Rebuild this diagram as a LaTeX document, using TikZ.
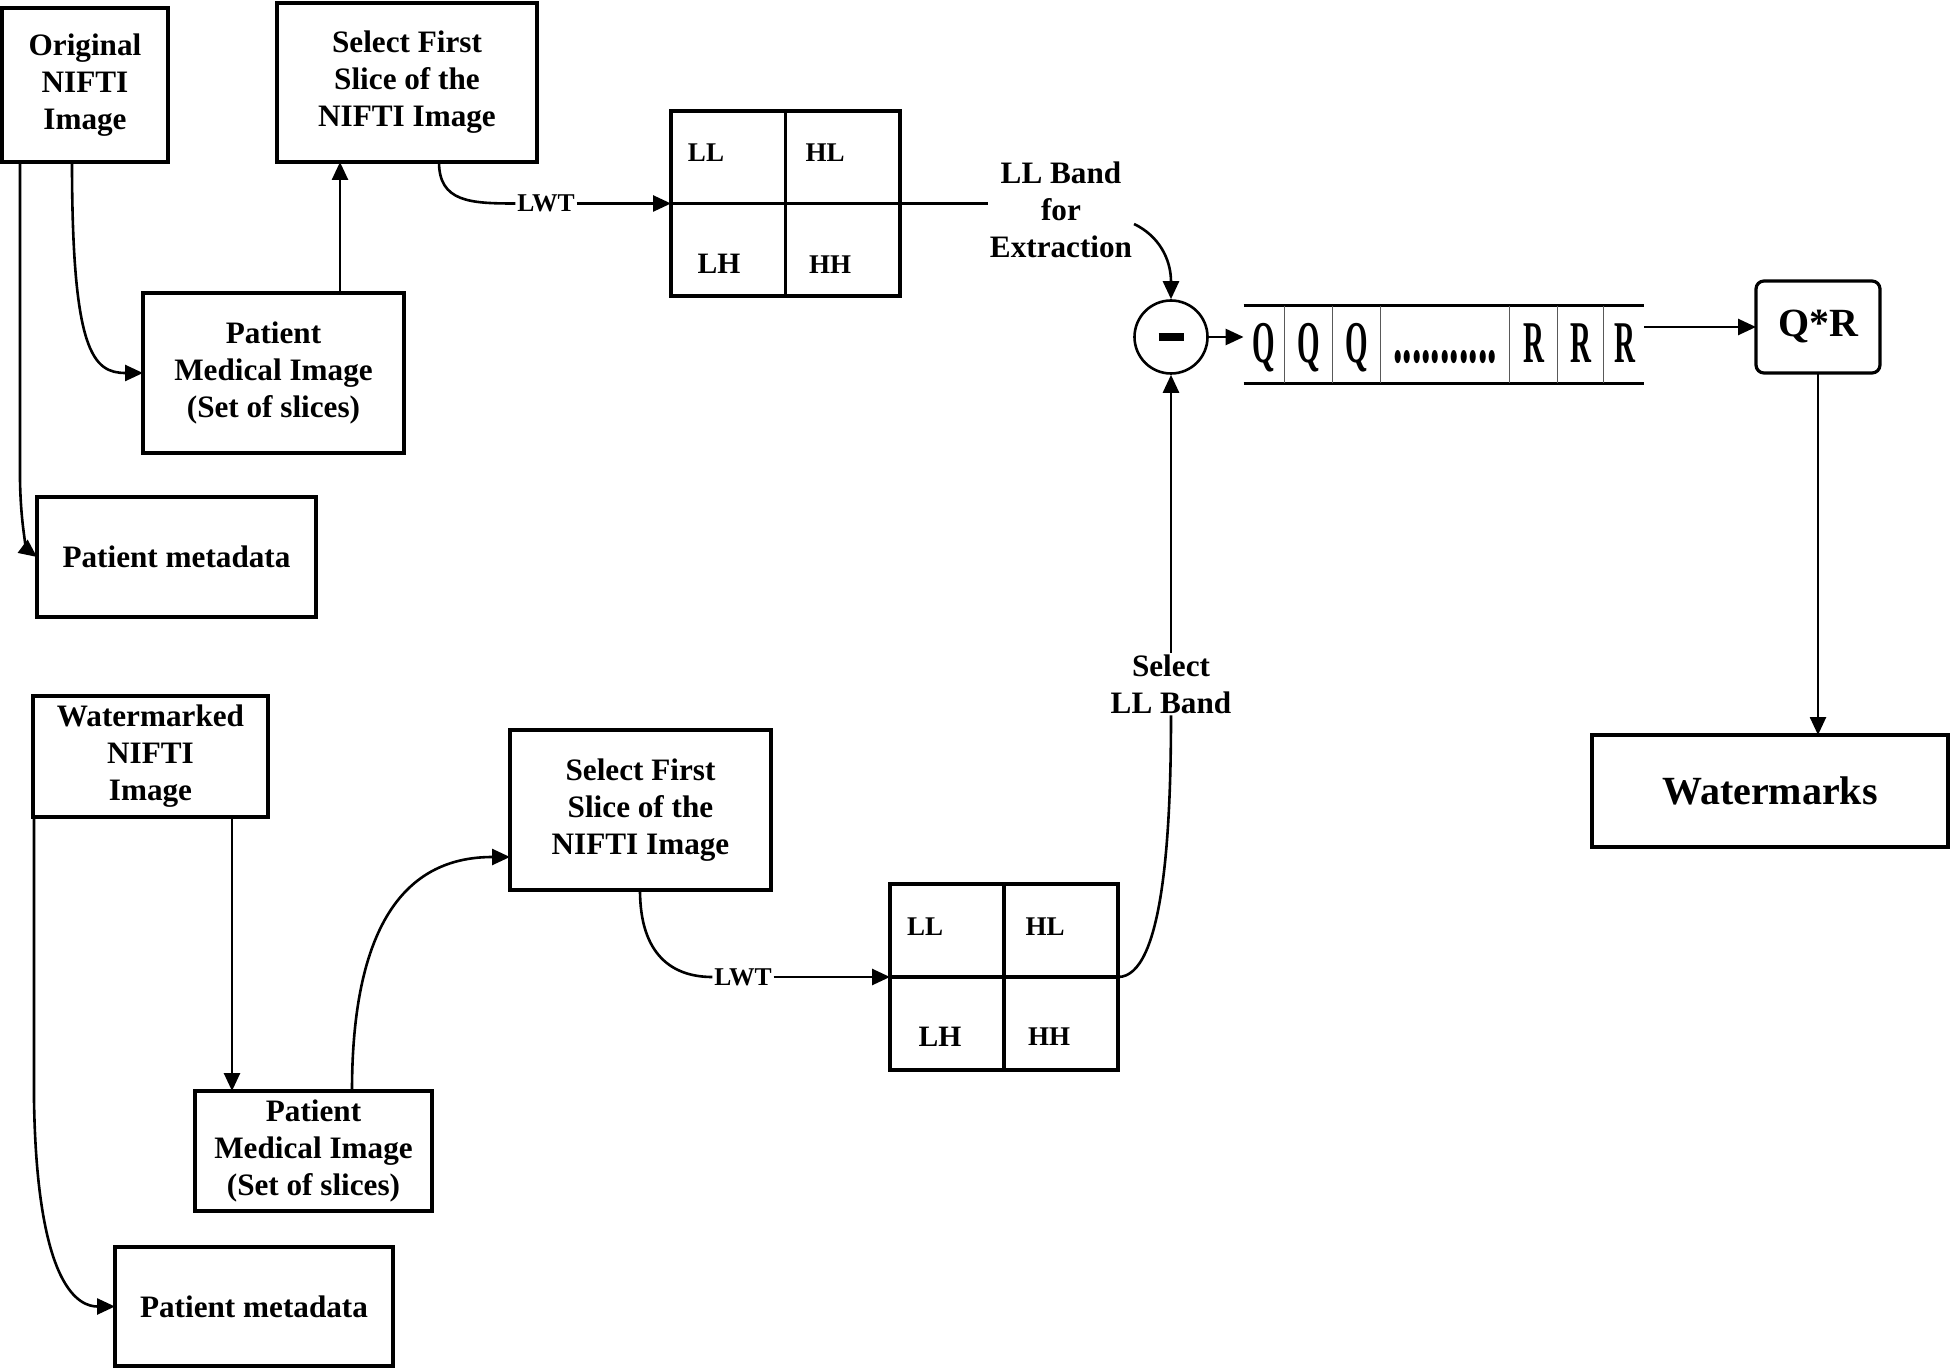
\documentclass[tikz,border=0pt]{standalone}
\usepackage{fontspec}
\setmainfont{Liberation Serif}
\usepackage{graphicx}
\usetikzlibrary{arrows.meta}
\newcommand{\myfs}[1]{\fontsize{#1}{18.5}\selectfont\bfseries}
\begin{document}
\begin{tikzpicture}[x=0.5pt,y=-0.5pt,
  box/.style={draw, line width=1.6pt, inner sep=0pt, outer sep=0pt, align=center, font=\myfs{15.6}},
  lbl/.style={inner sep=1pt, outer sep=0pt, align=center, font=\myfs{15.6}},
  band/.style={inner sep=0pt, font=\myfs{13.5}},
  lwt/.style={inner sep=1pt, outer sep=0pt, font=\myfs{12.8}},
  conn/.style={line width=1.3pt},
  arr/.style={conn, -{Triangle[length=9pt,width=8pt]}},
  seq/.style={inner sep=0pt, anchor=base, font=\fontsize{29}{29}\selectfont\bfseries},
  sep/.style={line width=0.7pt, black!65},
  thick line/.style={line width=1.6pt}
]
\useasboundingbox (0,0) rectangle (1950,1369);

% ---------- top part ----------
\node[box, minimum width=83pt, minimum height=77pt] (orig) at (85,85) {Original\\NIFTI\\Image};
\node[box, minimum width=130pt, minimum height=79.5pt] (sel1) at (407,82.5) {Select First\\Slice of the\\NIFTI Image};
\node[box, minimum width=130.5pt, minimum height=80pt] (pmi1) at (273.5,373) {Patient\\Medical Image\\(Set of slices)};
\node[box, minimum width=139.5pt, minimum height=60pt] (meta1) at (176.5,557) {Patient metadata};

\node[box, minimum width=114.5pt, minimum height=92.5pt] (band1) at (785.5,203.5) {};
\draw[thick line] (band1.north) -- (band1.south);
\draw[thick line] (band1.west) -- (band1.east);
\node[band] (b1ll) at (706,153) {LL};
\node[band] (b1hl) at (825,153) {HL};
\node[band, font=\myfs{14.8}] (b1lh) at (719,264) {LH};
\node[band] (b1hh) at (830,265) {HH};

\node[lwt] (lwt1) at (546,203.5) {LWT};
\node[lbl] (llb) at (1061,210) {LL Band\\for\\Extraction};

\node[draw, circle, line width=1.3pt, minimum size=36.5pt, inner sep=0pt] (minus) at (1171,337)
  {\rule{12.5pt}{4pt}};

\node[inner sep=0pt, minimum width=200pt, minimum height=38.5pt] (strip) at (1444,344.5) {};
\draw[thick line] (strip.north west) -- (strip.north east);
\draw[thick line] (strip.south west) -- (strip.south east);
\foreach \dx in {20.5,44.5,68.5,133,157,180}{
  \draw[sep] ([xshift=\dx pt]strip.north west) -- ([xshift=\dx pt]strip.south west);
}
\node[seq] (q1) at (1264,363) {\scalebox{0.5}[1.02]{Q}};
\node[seq] (q2) at (1309,363) {\scalebox{0.5}[1.02]{Q}};
\node[seq] (q3) at (1357,363) {\scalebox{0.5}[1.02]{Q}};
\node[seq] (dots) at (1445,363) {\scalebox{0.65}[1.4]{...........}};
\node[seq] (r1) at (1534,363) {\scalebox{0.5}[1.02]{R}};
\node[seq] (r2) at (1581,363) {\scalebox{0.5}[1.02]{R}};
\node[seq] (r3) at (1625,363) {\scalebox{0.5}[1.02]{R}};

\node[box, rounded corners=4pt, minimum width=62pt, minimum height=46pt, font=\myfs{20}] (qr) at (1818,327) {Q*R};
\node[box, minimum width=178pt, minimum height=56pt, font=\myfs{20}] (wm) at (1770,791) {Watermarks};

% ---------- bottom part ----------
\node[box, minimum width=117.5pt, minimum height=60.5pt] (wmk) at (150.5,756.5) {Watermarked\\NIFTI\\Image};
\node[box, minimum width=118.5pt, minimum height=60pt] (pmi2) at (313.5,1151) {Patient\\Medical Image\\(Set of slices)};
\node[box, minimum width=139pt, minimum height=59.5pt] (meta2) at (254,1306.5) {Patient metadata};
\node[box, minimum width=130.5pt, minimum height=80pt] (sel2) at (640.5,810) {Select First\\Slice of the\\NIFTI Image};

\node[box, minimum width=114pt, minimum height=93pt] (band2) at (1004,977) {};
\draw[thick line] (band2.north) -- (band2.south);
\draw[thick line] (band2.west) -- (band2.east);
\node[band] (b2ll) at (925,927) {LL};
\node[band] (b2hl) at (1045,927) {HL};
\node[band, font=\myfs{14.8}] (b2lh) at (940,1037) {LH};
\node[band] (b2hh) at (1049,1037) {HH};

\node[lwt] (lwt2) at (743,977) {LWT};
\node[lbl] (sll) at (1171,684) {Select\\LL Band};

% ---------- connectors: top ----------
\draw[arr] ([xshift=9pt]orig.south west) -- ++(0,318) .. controls +(1,55) and +(-8,-6) .. (meta1.west);
\draw[arr] ([xshift=35pt]orig.south west) .. controls +(0,190) and +(-50,0) .. (pmi1.west);
\coordinate (p1a) at ([xshift=98.5pt]pmi1.north west);
\draw[arr] (p1a) -- (p1a |- sel1.south);
\coordinate (s1a) at ([xshift=81pt]sel1.south west);
\draw[conn] (s1a) .. controls +(0,40) and +(-45,0) .. (lwt1.west);
\draw[arr] (lwt1.east) -- (band1.west);
\draw[conn] (band1.east) -- (band1.east -| llb.west);
\draw[arr] ([yshift=-7pt]llb.east) .. controls +(25,12) and +(0,-40) .. (minus.north);
\draw[arr] (minus.east) -- (minus.east -| strip.west);
\draw[arr] (qr.west -| strip.east) -- (qr.west);
\draw[arr] (qr.south) -- (qr.south |- wm.north);

% ---------- connectors: bottom ----------
\coordinate (w1) at ([xshift=0.5pt]wmk.south west);
\draw[arr] (w1) -- ++(0,283) .. controls +(3,190) and +(-35,0) .. (meta2.west);
\coordinate (w2) at ([xshift=99.5pt]wmk.south west);
\draw[arr] (w2) -- (w2 |- pmi2.north);
\coordinate (p2a) at ([xshift=78.5pt]pmi2.north west);
\draw[arr] (p2a) .. controls +(0,-200) and +(-80,0) .. ([yshift=-23.5pt]sel2.west);
\coordinate (s2a) at ([xshift=65pt]sel2.south west);
\draw[conn] (s2a) .. controls +(0,65) and +(-40,0) .. (lwt2.west);
\draw[arr] (lwt2.east) -- (band2.west);
\draw[conn] (band2.east) .. controls +(45,0) and +(0,120) .. (sll.south);
\draw[arr] (sll.north) -- (minus.south);
\end{tikzpicture}
\end{document}
